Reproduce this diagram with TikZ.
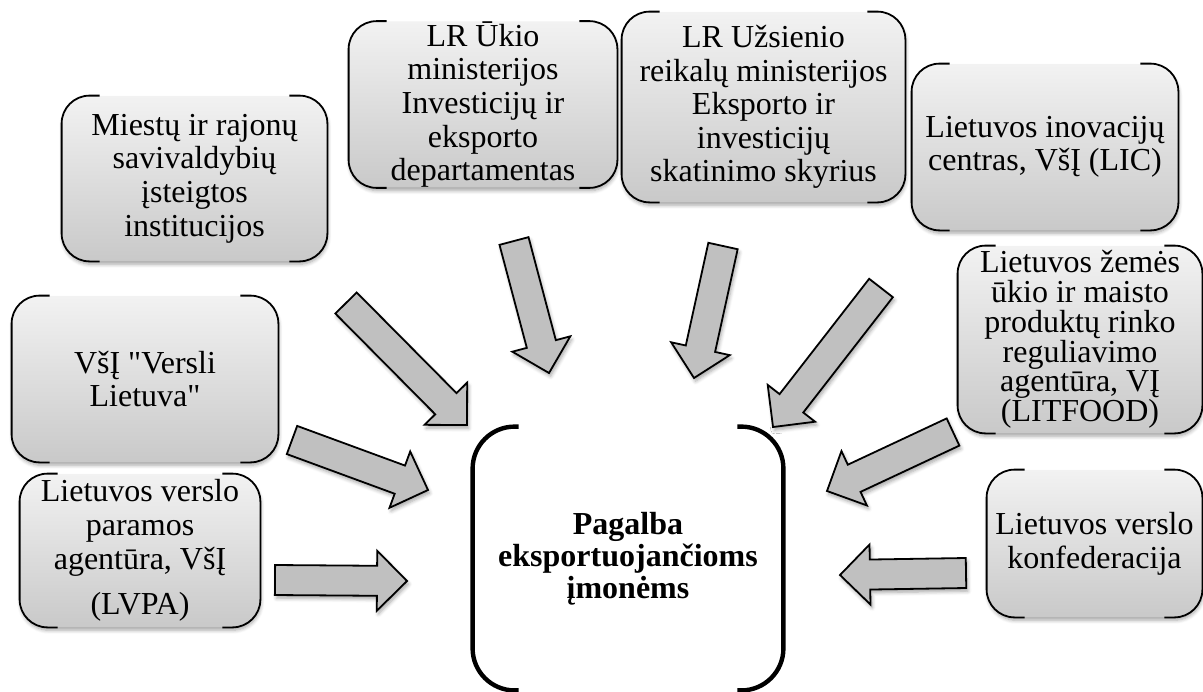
\documentclass[tikz,border=0pt]{standalone}
\usepackage{fontspec}
\setmainfont{Liberation Serif}[Ligatures=TeXOff]
\usetikzlibrary{calc,shadows.blur}
\definecolor{boxtop}{HTML}{F2F2F2}
\definecolor{boxbot}{HTML}{C9C9C9}
\definecolor{arrgray}{HTML}{C0C0C0}
\tikzset{
  gbox/.style={rectangle, rounded corners=14pt, top color=boxtop, bottom color=boxbot,
    draw=none, align=center, inner sep=0pt, font=\fontsize{16}{16.8}\selectfont,
    blur shadow={shadow xshift=0.4pt, shadow yshift=-1.6pt, shadow blur steps=6, shadow opacity=35}},
  cbox/.style={rectangle, draw=none, fill=white, align=center, inner sep=0pt,
    font=\fontsize{16}{16}\selectfont\bfseries},
  bline/.style={draw=black, line width=0.9pt},
  cline/.style={draw=black, line width=2.2pt},
  blk/.style={draw=black, line width=0.9pt, fill=arrgray, line join=miter,
    blur shadow={shadow xshift=0.8pt, shadow yshift=-1.6pt, shadow blur steps=5, shadow opacity=35}}
}
\newcommand\brk[4]{% node, radius, stub, style
  \draw[#4, rounded corners=#2] ([xshift=#3]#1.north west) -- (#1.north west) -- (#1.south west) -- ([xshift=#3]#1.south west);
  \draw[#4, rounded corners=#2] ([xshift=-#3]#1.north east) -- (#1.north east) -- (#1.south east) -- ([xshift=-#3]#1.south east);}
\newcommand\blockarrow[2]{%
  \draw[blk] let \p1=(#1), \p2=(#2), \n1={atan2(\y2-\y1,\x2-\x1)} in
    ($(\p1)+(\n1+90:7.5pt)$) -- ($(\p2)+(\n1+180:15pt)+(\n1+90:7.5pt)$)
    -- ($(\p2)+(\n1+180:15pt)+(\n1+90:15pt)$) -- (\p2)
    -- ($(\p2)+(\n1+180:15pt)+(\n1-90:15pt)$) -- ($(\p2)+(\n1+180:15pt)+(\n1-90:7.5pt)$)
    -- ($(\p1)+(\n1-90:7.5pt)$) -- cycle;}
\begin{document}
\begin{tikzpicture}[x=0.5pt,y=-0.5pt]
\useasboundingbox (0,0) rectangle (1203,691);

% boxes
\node[gbox, minimum width=132.5pt, minimum height=82.5pt] (m) at (194.5,178.5)
  {Miestų ir rajonų\\savivaldybių\\įsteigtos\\institucijos};
\node[gbox, minimum width=134pt, minimum height=82.5pt] (uk) at (483,104.5)
  {LR Ūkio\\ministerijos\\Investicijų ir\\eksporto\\departamentas};
\node[gbox, minimum width=141.5pt, minimum height=95pt] (uz) at (763.5,107)
  {LR Užsienio\\reikalų ministerijos\\Eksporto ir\\investicijų\\skatinimo skyrius};
\node[gbox, minimum width=133pt, minimum height=83pt] (lic) at (1045,147)
  {Lietuvos inovacijų\\centras, VšĮ (LIC)};
\node[gbox, minimum width=122pt, minimum height=93.5pt, font=\fontsize{16}{14.9}\selectfont] (lit) at (1080,339.5)
  {Lietuvos žemės\\ūkio ir maisto\\produktų rinko\\reguliavimo\\agentūra, VĮ\\(LITFOOD)};
\node[gbox, minimum width=107.5pt, minimum height=73.5pt] (konf) at (1094.5,543.5)
  {Lietuvos verslo\\konfederacija};
\node[gbox, minimum width=133pt, minimum height=83pt] (versli) at (145,379)
  {VšĮ "Versli\\Lietuva"};
\node[gbox, minimum width=120pt, minimum height=76.5pt] (lvpa) at (140,550.5)
  {Lietuvos verslo\\paramos\\agentūra, VšĮ\\[6pt](LVPA)};
\node[cbox, minimum width=155pt, minimum height=131.5pt] (c) at (628,558.5)
  {Pagalba\\eksportuojančioms\\įmonėms};

\brk{m}{14pt}{19pt}{bline}
\brk{uk}{14pt}{19pt}{bline}
\brk{uz}{14pt}{19pt}{bline}
\brk{lic}{14pt}{19pt}{bline}
\brk{lit}{14pt}{19pt}{bline}
\brk{konf}{14pt}{19pt}{bline}
\brk{versli}{14pt}{19pt}{bline}
\brk{lvpa}{14pt}{19pt}{bline}
\brk{c}{21pt}{23pt}{cline}

% arrows
\coordinate (a1s) at (346,303); \coordinate (a1e) at (467,425);
\coordinate (a2s) at (292,440); \coordinate (a2e) at (428,490);
\coordinate (a3s) at (275,580); \coordinate (a3e) at (407,581);
\coordinate (a4s) at (514,241); \coordinate (a4e) at (549,373);
\coordinate (a5s) at (723,246); \coordinate (a5e) at (694,378);
\coordinate (a6s) at (881,288); \coordinate (a6e) at (773,427);
\coordinate (a7s) at (953,432); \coordinate (a7e) at (827,491);
\coordinate (a8s) at (966,573); \coordinate (a8e) at (840,575);
\blockarrow{a1s}{a1e}
\blockarrow{a2s}{a2e}
\blockarrow{a3s}{a3e}
\blockarrow{a4s}{a4e}
\blockarrow{a5s}{a5e}
\blockarrow{a6s}{a6e}
\blockarrow{a7s}{a7e}
\blockarrow{a8s}{a8e}
\end{tikzpicture}
\end{document}
